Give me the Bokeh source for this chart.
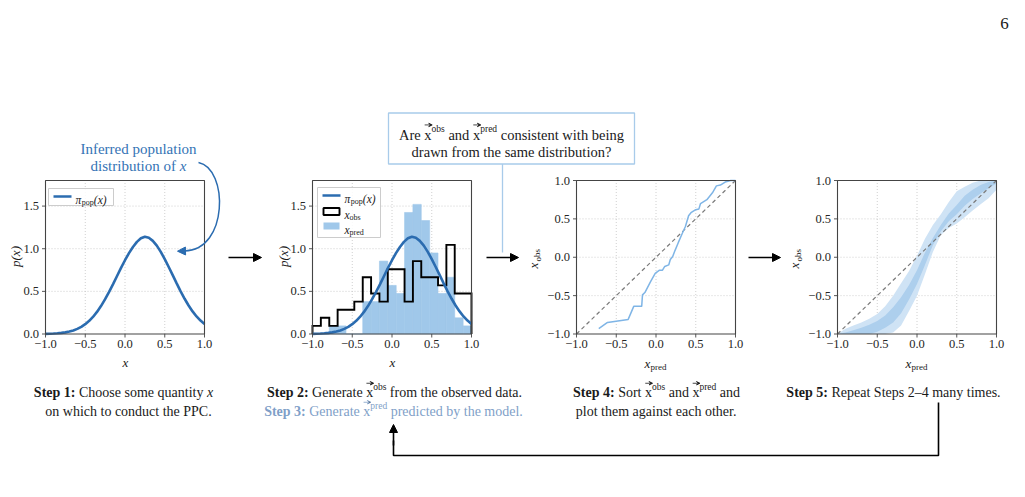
from bokeh.plotting import figure
from bokeh.models import Range1d, Arrow, NormalHead, VeeHead
from bokeh.core.properties import value
from bokeh.embed import file_html
from bokeh.resources import INLINE

# ---------------- data ----------------
# inferred population density pi_pop(x)
pop_x = [-1.00, -0.95, -0.90, -0.85, -0.80, -0.75, -0.70, -0.65, -0.60, -0.55,
         -0.50, -0.45, -0.40, -0.35, -0.30, -0.25, -0.20, -0.15, -0.10, -0.05,
         0.00, 0.05, 0.10, 0.15, 0.20, 0.25, 0.30, 0.35, 0.40, 0.45,
         0.50, 0.55, 0.60, 0.65, 0.70, 0.75, 0.80, 0.85, 0.90, 0.95, 1.00]
pop_y = [0.002, 0.003, 0.005, 0.008, 0.013, 0.019, 0.029, 0.042, 0.060, 0.084,
         0.115, 0.154, 0.203, 0.262, 0.330, 0.408, 0.494, 0.585, 0.680, 0.775,
         0.865, 0.948, 1.020, 1.080, 1.122, 1.140, 1.128, 1.092, 1.036, 0.963,
         0.878, 0.786, 0.690, 0.594, 0.500, 0.413, 0.334, 0.265, 0.206, 0.157, 0.118]

# histogram bins (19 bins on [-1, 1]) and densities
bin_edges = [-1.000, -0.895, -0.789, -0.684, -0.579, -0.474, -0.368, -0.263, -0.158, -0.053,
             0.053, 0.158, 0.263, 0.368, 0.474, 0.579, 0.684, 0.789, 0.895, 1.000]
obs_density = [0.095, 0.190, 0.095, 0.285, 0.285, 0.380, 0.665, 0.475, 0.380, 0.760,
               0.760, 0.380, 0.855, 0.665, 0.665, 0.570, 1.045, 0.475, 0.475]
pred_density = [0.000, 0.000, 0.095, 0.095, 0.000, 0.000, 0.380, 0.380, 0.855, 0.570,
                0.475, 1.425, 1.520, 1.330, 0.950, 0.475, 0.665, 0.190, 0.095]

# sorted predicted vs sorted observed values (one draw)
qq_pred = [-0.72, -0.61, -0.35, -0.28, -0.18, -0.17, -0.14, -0.07, -0.01, 0.04, 0.08,
           0.11, 0.16, 0.18, 0.21, 0.24, 0.28, 0.33, 0.37, 0.41, 0.44, 0.50, 0.54,
           0.56, 0.64, 0.71, 0.76, 0.81, 0.87, 0.94, 1.00]
qq_obs = [-0.93, -0.85, -0.81, -0.64, -0.64, -0.49, -0.46, -0.32, -0.21, -0.17, -0.17,
          -0.12, -0.10, -0.03, 0.01, 0.09, 0.19, 0.31, 0.40, 0.54, 0.58, 0.62, 0.63,
          0.70, 0.75, 0.84, 0.93, 0.94, 0.98, 1.00, 1.00]

# spread of many repeated draws: outer and inner envelopes
band_x = [-1.0, -0.9, -0.8, -0.7, -0.6, -0.5, -0.4, -0.3, -0.2, -0.1, 0.0,
          0.1, 0.2, 0.3, 0.4, 0.5, 0.6, 0.7, 0.8, 0.9, 1.0]
outer_hi = [-1.00, -0.93, -0.89, -0.85, -0.80, -0.74, -0.64, -0.50, -0.34, -0.18, 0.02,
            0.24, 0.42, 0.56, 0.72, 0.86, 0.92, 0.97, 1.00, 1.00, 1.00]
outer_lo = [-1.00, -1.00, -1.00, -1.00, -1.00, -1.00, -1.00, -0.98, -0.89, -0.70, -0.50,
            -0.22, 0.07, 0.29, 0.38, 0.44, 0.52, 0.61, 0.69, 0.77, 0.88]
inner_hi = [-1.00, -0.98, -0.95, -0.92, -0.88, -0.83, -0.76, -0.65, -0.52, -0.36, -0.17,
            0.06, 0.25, 0.42, 0.57, 0.68, 0.80, 0.88, 0.94, 0.98, 1.00]
inner_lo = [-1.00, -1.00, -1.00, -1.00, -1.00, -0.97, -0.92, -0.85, -0.73, -0.55, -0.35,
            -0.10, 0.16, 0.34, 0.47, 0.56, 0.67, 0.76, 0.83, 0.90, 0.96]

identity = [-1.0, 1.0]

x_ticks = [-1.0, -0.5, 0.0, 0.5, 1.0]
x_tick_labels = ["\u22121.0", "\u22120.5", "0.0", "0.5", "1.0"]
dens_ticks = [0.0, 0.5, 1.0, 1.5]
dens_tick_labels = ["0.0", "0.5", "1.0", "1.5"]

# ---------------- styling ----------------
INK = "#1a1a1a"
BLUE = "#2b6cb0"
PRED = "#a0c8ea"
QQ = "#7fb5e6"
GRID = "#c4c4c4"
SPINE = "#444444"
STEP3 = "#7f9fc8"
NOTE = "#3473b5"
BOXLINE = "#a8cbea"
SERIF = value("Liberation Serif")

# advance widths (1/1000 em) of the serif face, used to lay out mixed-style runs
REG = dict(zip(" !(),-.:?0123456789", [250, 333, 333, 333, 250, 333, 250, 278, 444] + [500] * 10))
REG.update(zip("ABCDEFGHIJKLMNOPQRSTUVWXYZ",
               [722, 667, 667, 722, 611, 556, 722, 722, 333, 389, 722, 611, 889,
                722, 722, 556, 722, 667, 556, 611, 722, 722, 944, 722, 722, 611]))
REG.update(zip("abcdefghijklmnopqrstuvwxyz",
               [444, 500, 444, 500, 444, 333, 500, 500, 278, 278, 500, 278, 778,
                500, 500, 500, 500, 333, 389, 278, 500, 500, 722, 500, 500, 444]))
REG["\u2013"] = 500
BOLD = dict(REG)
BOLD.update({"S": 556, "t": 333, "e": 444, "p": 556, ":": 333})
ITAL = dict(REG)
ITAL.update({"x": 444, "p": 500, "\u03c0": 549})
TABLES = {"normal": REG, "bold": BOLD, "italic": ITAL}


def tw(s, size, style="normal"):
    t = TABLES[style]
    return sum(t.get(c, 500) for c in s) * size / 1000.0


W, H = 1025, 497
p = figure(width=W, height=H, x_range=Range1d(0, W), y_range=Range1d(H, 0),
           output_backend="svg", toolbar_location=None, min_border=0,
           x_axis_location=None, y_axis_location=None)
p.outline_line_color = None
p.grid.visible = False
p.background_fill_color = "white"
p.border_fill_color = "white"


def label(x, y, s, size=14, color=INK, align="left", baseline="alphabetic",
          style="normal", angle=0.0):
    p.text(x=[x], y=[y], text=[s], text_font=SERIF, text_font_size=f"{size}px",
           text_color=color, text_align=align, text_baseline=baseline,
           text_font_style=style, angle=angle)


def seg(t, size=14, style="normal", color=INK, dy=0.0, vec=False):
    return dict(t=t, size=size, style=style, color=color, dy=dy, vec=vec)


def run(x, y, parts, align="left"):
    """Draw a line made of differently styled pieces, one after another."""
    total = sum(tw(s["t"], s["size"], s["style"]) for s in parts)
    if align == "center":
        x -= total / 2.0
    for s in parts:
        t = s["t"]
        lead = len(t) - len(t.lstrip(" "))
        w = tw(t, s["size"], s["style"])
        label(x + tw(" " * lead, s["size"]), y + s["dy"], t.strip(" "), size=s["size"],
              color=s["color"], style=s["style"])
        if s["vec"]:
            ya = y - 0.66 * s["size"]
            p.add_layout(Arrow(x_start=x + 0.3, y_start=ya, x_end=x + w + 0.6, y_end=ya,
                               line_width=0.8, line_color=s["color"],
                               end=VeeHead(size=3.5, line_color=s["color"],
                                           line_width=0.8)))
        x += w


class Panel:
    """A small axes box placed on the page through its own pair of ranges."""

    def __init__(self, name, left, right, top, bottom, xlim, ylim):
        self.x0, self.x1 = xlim
        self.y0, self.y1 = ylim
        self.sx = (self.x1 - self.x0) / (right - left)
        self.sy = (self.y1 - self.y0) / (bottom - top)
        p.extra_x_ranges[name] = Range1d(self.x0 - left * self.sx,
                                         self.x0 + (W - left) * self.sx)
        p.extra_y_ranges[name] = Range1d(self.y0 - (H - bottom) * self.sy,
                                         self.y0 + bottom * self.sy)
        self.kw = dict(x_range_name=name, y_range_name=name)

    def grid(self, xt, yt):
        gx = [v for v in xt if self.x0 < v < self.x1]
        gy = [v for v in yt if self.y0 < v < self.y1]
        p.segment(x0=gx, y0=[self.y0] * len(gx), x1=gx, y1=[self.y1] * len(gx),
                  line_color=GRID, line_width=0.8, line_dash="1 2", **self.kw)
        p.segment(x0=[self.x0] * len(gy), y0=gy, x1=[self.x1] * len(gy), y1=gy,
                  line_color=GRID, line_width=0.8, line_dash="1 2", **self.kw)

    def axes(self, xt, xl, yt, yl):
        n, m = len(xt), len(yt)
        p.quad(left=[self.x0], right=[self.x1], bottom=[self.y0], top=[self.y1],
               fill_color=None, line_color=SPINE, line_width=1.1, **self.kw)
        p.segment(x0=xt, y0=[self.y0] * n, x1=xt, y1=[self.y0 - 3.5 * self.sy] * n,
                  line_color=SPINE, line_width=0.9, **self.kw)
        p.segment(x0=[self.x0] * m, y0=yt, x1=[self.x0 - 3.5 * self.sx] * m, y1=yt,
                  line_color=SPINE, line_width=0.9, **self.kw)
        p.text(x=xt, y=[self.y0 - 6 * self.sy] * n, text=xl, text_font=SERIF,
               text_font_size="12.5px", text_color="#262626", text_align="center",
               text_baseline="top", **self.kw)
        p.text(x=[self.x0 - 6.5 * self.sx] * m, y=yt, text=yl, text_font=SERIF,
               text_font_size="12.5px", text_color="#262626", text_align="right",
               text_baseline="middle", **self.kw)


TOP, BOT = 180, 333.5
P1 = Panel("p1", 45, 204, TOP, BOT, (-1, 1), (0, 1.8))
P2 = Panel("p2", 312, 471, TOP, BOT, (-1, 1), (0, 1.8))
P3 = Panel("p3", 576, 735, TOP, BOT, (-1, 1), (-1, 1))
P4 = Panel("p4", 837, 996, TOP, BOT, (-1, 1), (-1, 1))

# ---- panel 1: population density ----
P1.grid(x_ticks, dens_ticks)
p.line(pop_x, pop_y, line_color=BLUE, line_width=2.6, **P1.kw)
P1.axes(x_ticks, x_tick_labels, dens_ticks, dens_tick_labels)

# ---- panel 2: observed and predicted histograms ----
P2.grid(x_ticks, dens_ticks)
p.quad(left=bin_edges[:-1], right=bin_edges[1:], bottom=0, top=pred_density,
       fill_color=PRED, line_color=PRED, line_width=0.6, **P2.kw)
step_x, step_y = [bin_edges[0]], [0.0]
for i, h in enumerate(obs_density):
    step_x += [bin_edges[i], bin_edges[i + 1]]
    step_y += [h, h]
step_x.append(bin_edges[-1])
step_y.append(0.0)
p.line(step_x, step_y, line_color="black", line_width=1.9, line_join="miter", **P2.kw)
p.line(pop_x, pop_y, line_color=BLUE, line_width=2.6, **P2.kw)
P2.axes(x_ticks, x_tick_labels, dens_ticks, dens_tick_labels)

# ---- panel 3: sorted obs vs sorted pred ----
P3.grid(x_ticks, x_ticks)
p.line(identity, identity, line_color="#7a7a7a", line_width=1.2, line_dash="4 3", **P3.kw)
p.line(qq_pred, qq_obs, line_color=QQ, line_width=1.5, **P3.kw)
P3.axes(x_ticks, x_tick_labels, x_ticks, x_tick_labels)

# ---- panel 4: many repeats ----
P4.grid(x_ticks, x_ticks)
p.varea(x=band_x, y1=outer_lo, y2=outer_hi, fill_color="#cfe3f5", **P4.kw)
p.varea(x=band_x, y1=inner_lo, y2=inner_hi, fill_color="#a9ccec", fill_alpha=0.9, **P4.kw)
p.line(identity, identity, line_color="#7a7a7a", line_width=1.2, line_dash="4 3", **P4.kw)
P4.axes(x_ticks, x_tick_labels, x_ticks, x_tick_labels)

# ---- axis labels ----
for cx in (125, 392):
    label(cx, 362, "x", size=13, style="italic", align="center")
for cx in (15, 283):
    label(cx, 256, "p(x)", size=13, style="italic", align="center",
          baseline="middle", angle=1.5708)
for cx in (655, 916):
    run(cx, 363, [seg("x", 13, "italic"), seg("pred", 9, dy=3)], align="center")
for lx in (533, 794):
    label(lx, 268, "x", size=13, style="italic", baseline="middle", angle=1.5708)
    label(lx + 4, 261, "obs", size=9, baseline="middle", angle=1.5708)

# ---- legends ----
p.quad(left=[48], right=[113], top=[188], bottom=[205], fill_color="white",
       fill_alpha=0.85, line_color="#cccccc", line_width=1)
p.line([53, 71], [196, 196], line_color=BLUE, line_width=2.6)
run(75, 199.5, [seg("\u03c0", 11.5, "italic"), seg("pop", 8, dy=2.5), seg("(x)", 11.5, "italic")])

p.quad(left=[317], right=[380], top=[187], bottom=[237], fill_color="white",
       fill_alpha=0.85, line_color="#cccccc", line_width=1)
p.line([322, 340], [195, 195], line_color=BLUE, line_width=2.6)
run(344, 198.5, [seg("\u03c0", 11.5, "italic"), seg("pop", 8, dy=2.5), seg("(x)", 11.5, "italic")])
p.quad(left=[323], right=[339], top=[207.5], bottom=[214.5], fill_color=None,
       line_color="black", line_width=1.9)
run(344, 214, [seg("x", 11.5, "italic"), seg("obs", 8, dy=2.5)])
p.quad(left=[323], right=[339], top=[222], bottom=[229], fill_color=PRED, line_color=None)
run(344, 229, [seg("x", 11.5, "italic"), seg("pred", 8, dy=2.5)])

# ---- arrows between panels ----
for xs, xe in ((228, 261), (486, 518), (748, 780)):
    p.add_layout(Arrow(x_start=xs, y_start=257, x_end=xe, y_end=257, line_width=1.6,
                       end=NormalHead(size=8, fill_color="black", line_color="black")))

# ---- population note with curved arrow ----
run(138, 148, [seg("Inferred population", 15, color=NOTE)], align="center")
run(138, 165, [seg("distribution of ", 15, color=NOTE), seg("x", 15, "italic", NOTE)],
    align="center")
p.bezier(x0=[198], y0=[162], x1=[184], y1=[250.5], cx0=[228], cy0=[168],
         cx1=[228], cy1=[250], line_color=BLUE, line_width=1.5)
p.add_layout(Arrow(x_start=185, y_start=250.5, x_end=177, y_end=250.7, line_width=1.5,
                   line_color=BLUE,
                   end=NormalHead(size=8, fill_color=BLUE, line_color=BLUE)))

# ---- question callout ----
p.line([502, 502], [163.5, 252], line_color=BOXLINE, line_width=1.3)
p.quad(left=[388], right=[634], top=[112.5], bottom=[163.5], fill_color="white",
       line_color=BOXLINE, line_width=1.3)
Q = 14.5
run(511, 134, [seg("Are ", Q), seg("x", Q, vec=True), seg("obs", 9.5, dy=-5.5),
               seg(" and ", Q), seg("x", Q, vec=True), seg("pred", 9.5, dy=-5.5),
               seg(" consistent with being", Q)], align="center")
run(511, 151, [seg("drawn from the same distribution?", Q)], align="center")

# ---- step captions ----
L1, L2 = 392, 411
run(123, L1, [seg("Step 1:", style="bold"), seg(" Choose some quantity "),
              seg("x", style="italic")], align="center")
run(128, L2, [seg("on which to conduct the PPC.")], align="center")

run(394, L1, [seg("Step 2:", style="bold"), seg(" Generate "), seg("x", vec=True),
              seg("obs", 9.5, dy=-5.5), seg(" from the observed data.")], align="center")
run(393, L2, [seg("Step 3:", style="bold", color=STEP3), seg(" Generate ", color=STEP3),
              seg("x", color=STEP3, vec=True), seg("pred", 9.5, color=STEP3, dy=-5.5),
              seg(" predicted by the model.", color=STEP3)], align="center")

run(656, L1, [seg("Step 4:", style="bold"), seg(" Sort "), seg("x", vec=True),
              seg("obs", 9.5, dy=-5.5), seg(" and "), seg("x", vec=True),
              seg("pred", 9.5, dy=-5.5), seg(" and")], align="center")
run(656, L2, [seg("plot them against each other.")], align="center")

run(893, L1, [seg("Step 5:", style="bold"), seg(" Repeat Steps 2\u20134 many times.")],
    align="center")

# ---- loop back arrow ----
p.line([938, 938, 393, 393], [402, 455, 455, 440], line_color="black", line_width=1.6)
p.add_layout(Arrow(x_start=393, y_start=445, x_end=393, y_end=424, line_width=1.6,
                   end=NormalHead(size=8, fill_color="black", line_color="black")))

# page number
label(1004, 23, "6", size=17, align="center")

open("out.html", "w").write(file_html(p, INLINE))
